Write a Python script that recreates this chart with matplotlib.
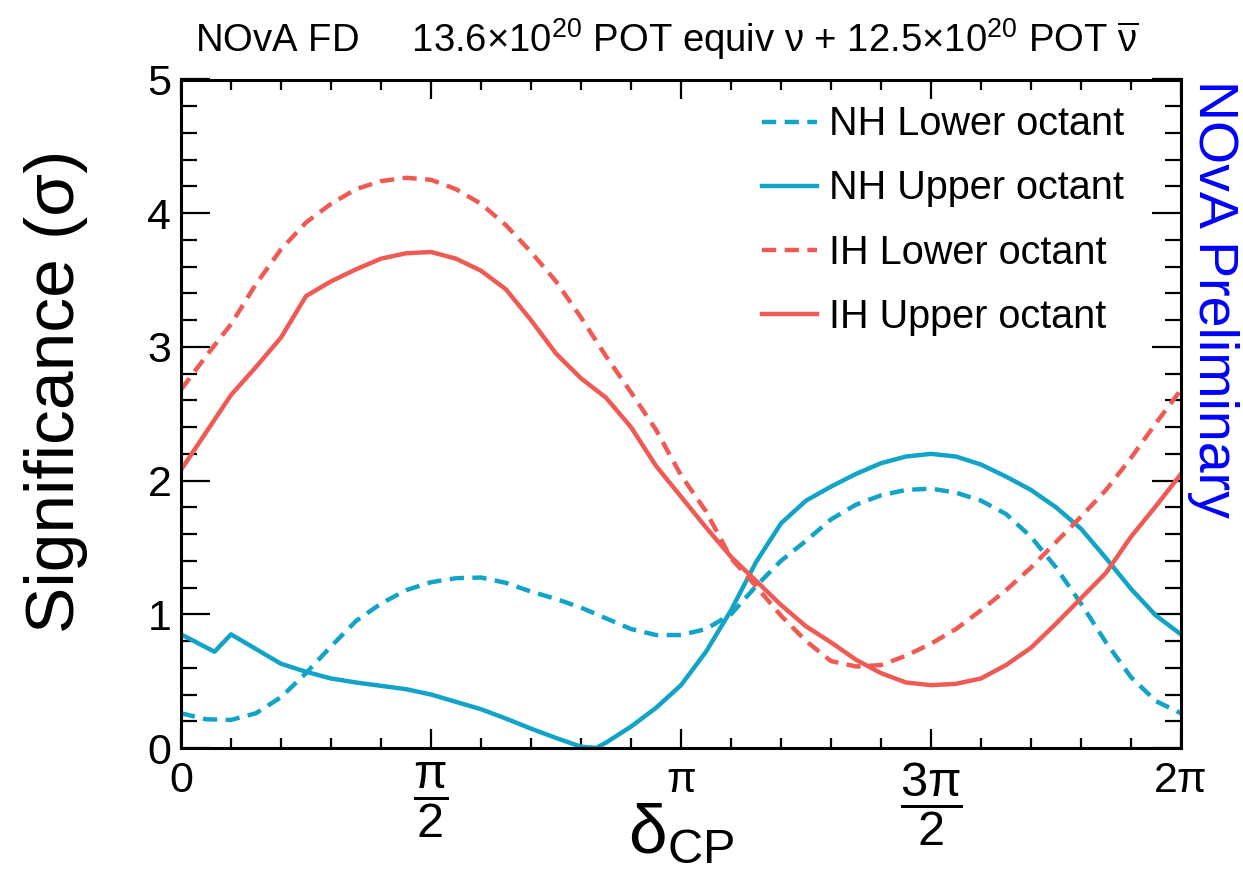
import matplotlib
matplotlib.use("Agg")
import matplotlib.pyplot as plt
import numpy as np

# delta_CP positions are in units of pi
nh_lo_x = [0.00, 0.05, 0.10, 0.15, 0.20, 0.25, 0.30, 0.35, 0.40, 0.45, 0.50,
           0.55, 0.60, 0.65, 0.70, 0.75, 0.80, 0.85, 0.90, 0.95, 1.00,
           1.05, 1.10, 1.15, 1.20, 1.25, 1.30, 1.35, 1.40, 1.45, 1.50,
           1.55, 1.60, 1.65, 1.70, 1.75, 1.80, 1.85, 1.90, 1.95, 2.00]
nh_lo_y = [0.26, 0.215, 0.21, 0.26, 0.38, 0.56, 0.76, 0.95, 1.08, 1.18, 1.24,
           1.27, 1.275, 1.235, 1.17, 1.115, 1.05, 0.97, 0.89, 0.845, 0.845,
           0.89, 1.00, 1.21, 1.40, 1.55, 1.71, 1.82, 1.89, 1.93, 1.94,
           1.91, 1.85, 1.75, 1.58, 1.35, 1.08, 0.79, 0.53, 0.35, 0.26]

nh_uo_x = [0.00, 0.067, 0.10, 0.15, 0.20, 0.25, 0.30, 0.35, 0.40, 0.45, 0.50,
           0.55, 0.60, 0.65, 0.70, 0.75, 0.80, 0.83, 0.85, 0.90, 0.95, 1.00,
           1.05, 1.10, 1.15, 1.20, 1.25, 1.30, 1.35, 1.40, 1.45, 1.50,
           1.55, 1.60, 1.65, 1.70, 1.75, 1.80, 1.85, 1.90, 1.95, 2.00]
nh_uo_y = [0.85, 0.72, 0.85, 0.74, 0.63, 0.57, 0.52, 0.49, 0.465, 0.44, 0.40,
           0.345, 0.29, 0.22, 0.145, 0.075, 0.01, 0.0, 0.04, 0.16, 0.30, 0.47,
           0.72, 1.03, 1.39, 1.68, 1.85, 1.955, 2.05, 2.13, 2.18, 2.20,
           2.18, 2.12, 2.03, 1.93, 1.80, 1.64, 1.42, 1.19, 0.99, 0.85]

ih_lo_x = nh_lo_x
ih_lo_y = [2.68, 2.93, 3.17, 3.47, 3.73, 3.93, 4.07, 4.18, 4.24, 4.265, 4.25,
           4.18, 4.07, 3.91, 3.71, 3.49, 3.22, 2.93, 2.66, 2.38, 2.04,
           1.77, 1.42, 1.21, 0.99, 0.80, 0.65, 0.61, 0.62, 0.69, 0.78,
           0.89, 1.03, 1.18, 1.35, 1.54, 1.73, 1.93, 2.17, 2.43, 2.68]

ih_uo_x = nh_lo_x
ih_uo_y = [2.08, 2.36, 2.64, 2.85, 3.07, 3.38, 3.49, 3.58, 3.66, 3.70, 3.71,
           3.66, 3.57, 3.43, 3.20, 2.95, 2.765, 2.62, 2.40, 2.11, 1.88,
           1.65, 1.43, 1.25, 1.07, 0.91, 0.79, 0.66, 0.56, 0.49, 0.47,
           0.48, 0.52, 0.62, 0.75, 0.93, 1.12, 1.31, 1.58, 1.81, 2.05]

series_labels = ["NH Lower octant", "NH Upper octant", "IH Lower octant", "IH Upper octant"]
x_tick_pos = [0, 0.5, 1.0, 1.5, 2.0]
x_tick_labels = ["0", r"$\dfrac{\mathrm{π}}{\mathrm{2}}$", "π",
                 r"$\dfrac{\mathrm{3π}}{\mathrm{2}}$", "2π"]

BLUE = "#12a3c9"
RED = "#f05a54"

plt.rcParams["font.family"] = ["Liberation Sans", "DejaVu Sans"]
plt.rcParams["mathtext.fontset"] = "custom"
plt.rcParams["mathtext.rm"] = "Liberation Sans"
plt.rcParams["mathtext.it"] = "Liberation Sans:italic"
plt.rcParams["mathtext.bf"] = "Liberation Sans:bold"
plt.rcParams["mathtext.sf"] = "Liberation Sans"

W, H = 1243, 875
fig = plt.figure(figsize=(W / 100, H / 100), dpi=100)
ax = fig.add_axes([181 / W, 1 - 748 / H, 1000 / W, 668.5 / H])

lw = 3.2
dash = (3.2, 1.9)
ax.plot(nh_lo_x, nh_lo_y, color=BLUE, lw=lw, dashes=dash, label=series_labels[0])
ax.plot(nh_uo_x, nh_uo_y, color=BLUE, lw=lw, label=series_labels[1])
ax.plot(ih_lo_x, ih_lo_y, color=RED, lw=lw, dashes=dash, label=series_labels[2])
ax.plot(ih_uo_x, ih_uo_y, color=RED, lw=lw, label=series_labels[3])

ax.set_xlim(0, 2)
ax.set_ylim(0, 5)
ax.set_xticks(x_tick_pos)
ax.set_xticklabels(x_tick_labels)
ax.set_xticks(np.arange(0, 2.01, 0.1), minor=True)
ax.set_yticks(range(6))
ax.set_yticks(np.arange(0, 5.01, 0.2), minor=True)

for side in ax.spines.values():
    side.set_linewidth(2.2)
ax.tick_params(axis="both", which="both", direction="in", top=True, right=True, width=1.6)
ax.tick_params(axis="x", which="major", length=14, labelsize=31, pad=9)
ax.tick_params(axis="x", which="minor", length=7)
ax.tick_params(axis="y", which="major", length=21, labelsize=31, pad=7)
ax.tick_params(axis="y", which="minor", length=11.5)
# the stacked fractions come out small in mathtext, so enlarge them
for lab in ax.get_xticklabels():
    if "frac" in lab.get_text():
        lab.set_fontsize(35)

ax.set_ylabel("Significance (σ)", fontsize=50)
ax.yaxis.set_label_coords(-0.093, 0.534)
ax.set_xlabel(r"$\mathrm{δ_{CP}}$", fontsize=50)
ax.xaxis.set_label_coords(0.5, -0.083)

leg = ax.legend(loc="upper left", bbox_to_anchor=(0.565, 0.985), frameon=False,
                fontsize=28.5, handlelength=1.4, handletextpad=0.3,
                labelspacing=0.66, borderaxespad=0)

fig.text(195 / W, 1 - 52 / H,
         r"NOvA FD     13.6$\times$10$^{20}$ POT equiv ν + 12.5$\times$10$^{20}$ POT $\mathrm{\overline{ν}}$",
         fontsize=27.5, va="baseline")
fig.text(1213 / W, 1 - 80 / H, "NOvA Preliminary", color="blue", fontsize=40,
         rotation=-90, ha="center", va="top")

fig.savefig("out.png", dpi=100)
